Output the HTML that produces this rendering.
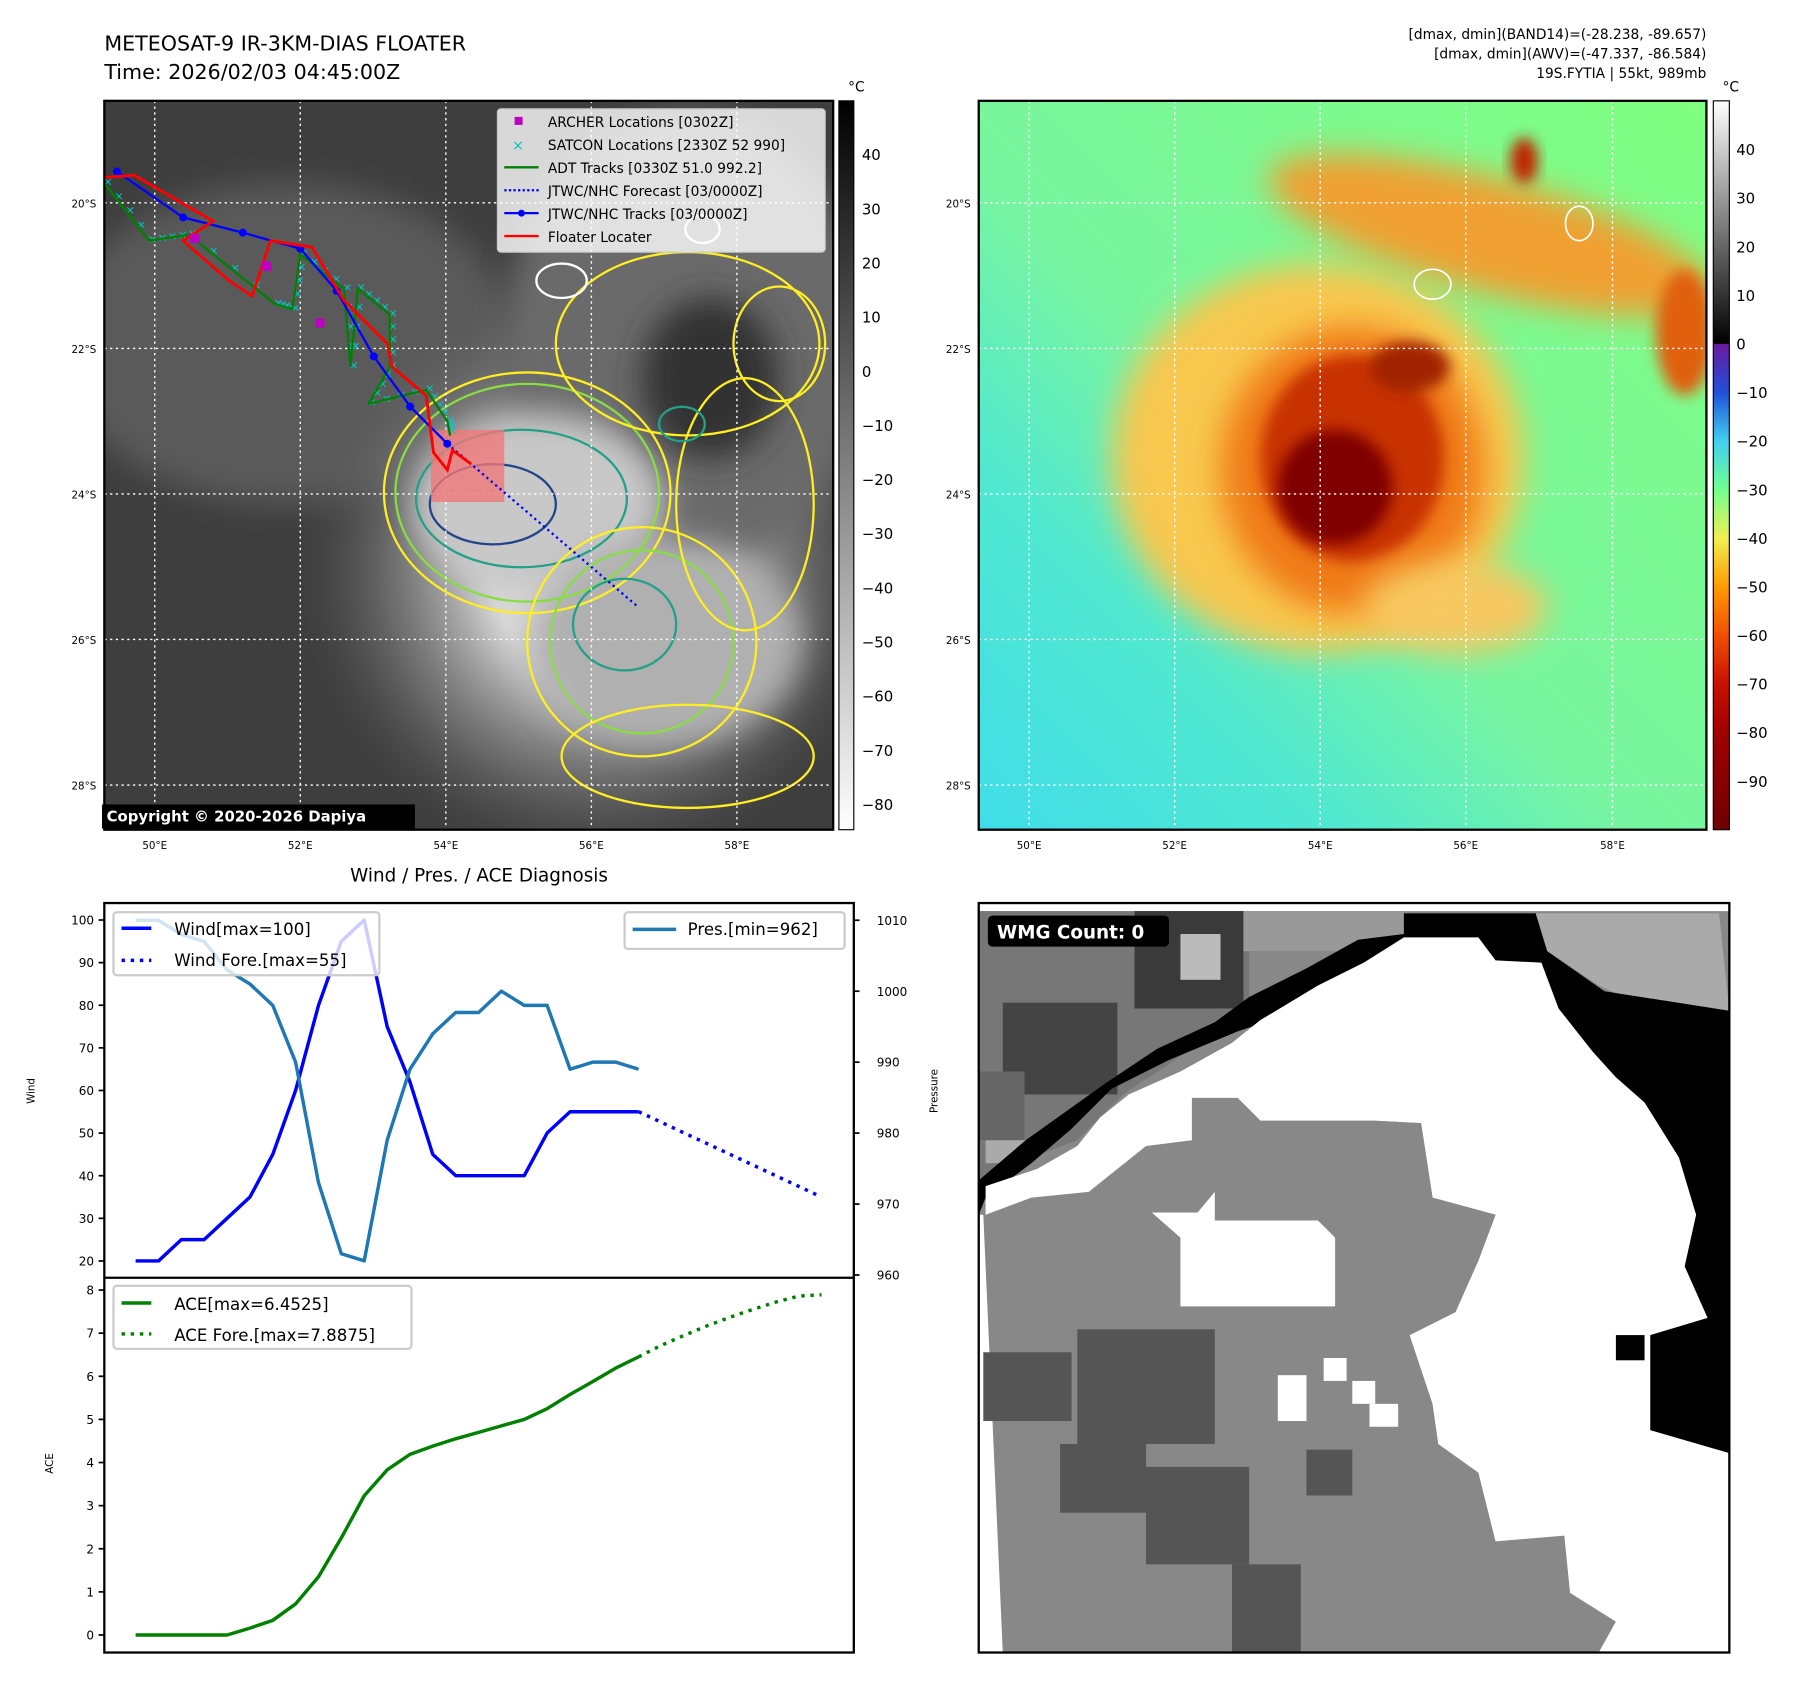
<!DOCTYPE html>
<html><head><meta charset="utf-8"><style>
html,body{margin:0;padding:0;background:#fff;}
svg{display:block;font-family:"DejaVu Sans","Liberation Sans",sans-serif;}
</style></head><body>
<svg id="root" width="1797" height="1690" viewBox="0 0 1568 1474.7" xmlns="http://www.w3.org/2000/svg">
<defs>
<radialGradient id="cloud" cx="0.5" cy="0.5" r="0.5">
<stop offset="0" stop-color="#f4f4f4"/><stop offset="0.35" stop-color="#d8d8d8"/><stop offset="0.7" stop-color="#888" stop-opacity="0.6"/><stop offset="1" stop-color="#555" stop-opacity="0"/>
</radialGradient>
<linearGradient id="bg2" x1="1" y1="0" x2="0" y2="1">
<stop offset="0" stop-color="#80ff80"/><stop offset="0.55" stop-color="#78f5a0"/><stop offset="0.75" stop-color="#50e8d0"/><stop offset="1" stop-color="#40dde8"/>
</linearGradient>
<linearGradient id="cb1" x1="0" y1="0" x2="0" y2="1"><stop offset="0" stop-color="#000"/><stop offset="1" stop-color="#fff"/></linearGradient>
<linearGradient id="cb2" x1="0" y1="0" x2="0" y2="1">
<stop offset="0" stop-color="#fff"/><stop offset="0.333" stop-color="#000"/><stop offset="0.334" stop-color="#6a1aa0"/>
<stop offset="0.4" stop-color="#2050d8"/><stop offset="0.467" stop-color="#40d0f0"/><stop offset="0.533" stop-color="#70ff90"/>
<stop offset="0.6" stop-color="#f0f050"/><stop offset="0.667" stop-color="#ff9a00"/><stop offset="0.733" stop-color="#f05000"/>
<stop offset="0.8" stop-color="#c81000"/><stop offset="0.867" stop-color="#a00000"/><stop offset="1" stop-color="#700000"/>
</linearGradient>
<filter id="blur" x="-30%" y="-30%" width="160%" height="160%"><feGaussianBlur stdDeviation="14"/></filter>
<filter id="blur2" x="-30%" y="-30%" width="160%" height="160%"><feGaussianBlur stdDeviation="6"/></filter>
<clipPath id="c1"><rect x="91" y="88" width="636" height="636"/></clipPath>
<clipPath id="c2"><rect x="854" y="88" width="635" height="636"/></clipPath>
<clipPath id="c3"><rect x="854" y="788" width="655" height="654"/></clipPath>
</defs>

<text x="91" y="44" font-size="18">METEOSAT-9 IR-3KM-DIAS FLOATER</text>
<text x="91" y="69" font-size="18">Time: 2026/02/03 04:45:00Z</text>
<g font-size="12" text-anchor="end">
<text x="1489" y="34">[dmax, dmin](BAND14)=(-28.238, -89.657)</text>
<text x="1489" y="51">[dmax, dmin](AWV)=(-47.337, -86.584)</text>
<text x="1489" y="68">19S.FYTIA | 55kt, 989mb</text>
</g>

<!-- MAP 1 -->
<g clip-path="url(#c1)">
<rect x="91" y="88" width="636" height="636" fill="#3e3e3e"/>
<ellipse cx="250" cy="300" rx="200" ry="140" fill="#5a5a5a" filter="url(#blur)"/>
<ellipse cx="520" cy="500" rx="260" ry="260" fill="url(#cloud)"/>
<ellipse cx="600" cy="300" rx="160" ry="200" fill="#6a6a6a" filter="url(#blur)"/>
<ellipse cx="470" cy="440" rx="110" ry="80" fill="#c8c8c8" filter="url(#blur)"/>
<ellipse cx="580" cy="560" rx="120" ry="90" fill="#b0b0b0" filter="url(#blur)"/>
<ellipse cx="620" cy="330" rx="60" ry="70" fill="#333" filter="url(#blur)"/>
<g fill="none" stroke-width="2">
<ellipse cx="460" cy="430" rx="125" ry="105" stroke="#ffee22"/>
<ellipse cx="460" cy="430" rx="115" ry="95" stroke="#88dd44"/>
<ellipse cx="455" cy="435" rx="92" ry="60" stroke="#22a088"/>
<ellipse cx="430" cy="440" rx="55" ry="35" stroke="#224488"/>
<ellipse cx="600" cy="300" rx="115" ry="80" stroke="#ffee22"/>
<ellipse cx="560" cy="560" rx="100" ry="100" stroke="#ffee22"/>
<ellipse cx="560" cy="560" rx="80" ry="80" stroke="#88dd44"/>
<ellipse cx="545" cy="545" rx="45" ry="40" stroke="#22a088"/>
<ellipse cx="650" cy="440" rx="60" ry="110" stroke="#ffee22"/>
<ellipse cx="600" cy="660" rx="110" ry="45" stroke="#ffee22"/>
<ellipse cx="680" cy="300" rx="40" ry="50" stroke="#ffee22"/>
<ellipse cx="595" cy="370" rx="20" ry="15" stroke="#22a088"/>
<ellipse cx="490" cy="245" rx="22" ry="15" stroke="#fff"/>
<ellipse cx="613" cy="200" rx="15" ry="12" stroke="#fff"/>
</g>
<g stroke="#fff" stroke-width="1.2" stroke-dasharray="2,3">
<line x1="135" y1="88" x2="135" y2="724"/><line x1="262" y1="88" x2="262" y2="724"/><line x1="389" y1="88" x2="389" y2="724"/><line x1="516" y1="88" x2="516" y2="724"/><line x1="643" y1="88" x2="643" y2="724"/>
<line x1="91" y1="177" x2="727" y2="177"/><line x1="91" y1="304" x2="727" y2="304"/><line x1="91" y1="431" x2="727" y2="431"/><line x1="91" y1="558" x2="727" y2="558"/><line x1="91" y1="685" x2="727" y2="685"/>
</g>
<rect x="376" y="375" width="64" height="63" fill="#f07878" opacity="0.8"/>
<g id="tracks"></g>
</g>
<rect x="91" y="88" width="636" height="636" fill="none" stroke="#000" stroke-width="2"/>
<g>
<rect x="434" y="95" width="286" height="125" fill="#fff" fill-opacity="0.8" stroke="#ccc" rx="3"/>
<g font-size="12">
<rect x="449" y="102" width="7" height="7" fill="#c000c0"/><text x="478" y="111">ARCHER Locations [0302Z]</text>
<text x="452" y="131" fill="#00c0c0" font-size="12" text-anchor="middle">×</text><text x="478" y="131">SATCON Locations [2330Z 52 990]</text>
<line x1="440" y1="146" x2="470" y2="146" stroke="#008000" stroke-width="2"/><text x="478" y="151">ADT Tracks [0330Z 51.0 992.2]</text>
<line x1="440" y1="166" x2="470" y2="166" stroke="#0000ff" stroke-width="2" stroke-dasharray="2,2"/><text x="478" y="171">JTWC/NHC Forecast [03/0000Z]</text>
<line x1="440" y1="186" x2="470" y2="186" stroke="#0000ff" stroke-width="2"/><circle cx="455" cy="186" r="3" fill="#0000ff"/><text x="478" y="191">JTWC/NHC Tracks [03/0000Z]</text>
<line x1="440" y1="206" x2="470" y2="206" stroke="#ff0000" stroke-width="2"/><text x="478" y="211">Floater Locater</text>
</g></g>
<rect x="89" y="702" width="273" height="21" fill="#000"/>
<text x="93" y="717" font-size="13" font-weight="bold" fill="#fff">Copyright © 2020-2026 Dapiya</text>
<g font-size="9">
<g text-anchor="end"><text x="84" y="181">20°S</text><text x="84" y="308">22°S</text><text x="84" y="435">24°S</text><text x="84" y="562">26°S</text><text x="84" y="689">28°S</text></g>
<g text-anchor="middle"><text x="135" y="741">50°E</text><text x="262" y="741">52°E</text><text x="389" y="741">54°E</text><text x="516" y="741">56°E</text><text x="643" y="741">58°E</text></g>
</g>
<g>
<rect x="732" y="88" width="13" height="636" fill="url(#cb1)" stroke="#000"/>
<text x="740" y="80" font-size="12">°C</text>
<g font-size="13" id="cb1ticks"></g>
</g>

<!-- MAP 2 -->
<g clip-path="url(#c2)">
<rect x="854" y="88" width="635" height="636" fill="url(#bg2)"/>
<ellipse cx="1150" cy="400" rx="180" ry="170" fill="#f8c850" filter="url(#blur)"/>
<ellipse cx="1300" cy="205" rx="200" ry="50" fill="#f0a030" filter="url(#blur)" transform="rotate(15 1300 205)"/>
<ellipse cx="1470" cy="290" rx="25" ry="55" fill="#e06010" filter="url(#blur2)"/>
<ellipse cx="1330" cy="140" rx="12" ry="20" fill="#c02000" filter="url(#blur2)"/>
<ellipse cx="1180" cy="410" rx="115" ry="125" fill="#f07a18" filter="url(#blur)"/>
<ellipse cx="1180" cy="400" rx="80" ry="90" fill="#c83000" filter="url(#blur2)"/>
<ellipse cx="1165" cy="425" rx="50" ry="50" fill="#800000" filter="url(#blur2)"/>
<ellipse cx="1230" cy="320" rx="35" ry="22" fill="#a02000" filter="url(#blur2)"/>
<ellipse cx="1270" cy="530" rx="80" ry="40" fill="#f8c860" filter="url(#blur)"/>
<ellipse cx="1250" cy="248" rx="16" ry="13" fill="none" stroke="#fff" stroke-width="1.5"/>
<ellipse cx="1378" cy="195" rx="12" ry="15" fill="none" stroke="#fff" stroke-width="1.5"/>
<g stroke="#fff" stroke-width="1.2" stroke-dasharray="2,3">
<line x1="898" y1="88" x2="898" y2="724"/><line x1="1025" y1="88" x2="1025" y2="724"/><line x1="1152" y1="88" x2="1152" y2="724"/><line x1="1279" y1="88" x2="1279" y2="724"/><line x1="1407" y1="88" x2="1407" y2="724"/>
<line x1="854" y1="177" x2="1489" y2="177"/><line x1="854" y1="304" x2="1489" y2="304"/><line x1="854" y1="431" x2="1489" y2="431"/><line x1="854" y1="558" x2="1489" y2="558"/><line x1="854" y1="685" x2="1489" y2="685"/>
</g></g>
<rect x="854" y="88" width="635" height="636" fill="none" stroke="#000" stroke-width="2"/>
<g font-size="9">
<g text-anchor="end"><text x="847" y="181">20°S</text><text x="847" y="308">22°S</text><text x="847" y="435">24°S</text><text x="847" y="562">26°S</text><text x="847" y="689">28°S</text></g>
<g text-anchor="middle"><text x="898" y="741">50°E</text><text x="1025" y="741">52°E</text><text x="1152" y="741">54°E</text><text x="1279" y="741">56°E</text><text x="1407" y="741">58°E</text></g>
</g>
<g>
<rect x="1495" y="88" width="14" height="636" fill="url(#cb2)" stroke="#000"/>
<text x="1503" y="80" font-size="12">°C</text>
<g font-size="13" id="cb2ticks"></g>
</g>

<!-- CHART -->
<text x="418" y="769" font-size="16" text-anchor="middle">Wind / Pres. / ACE Diagnosis</text>
<g id="chart"></g>
<rect x="91" y="788" width="654" height="654" fill="none" stroke="#000" stroke-width="2"/>
<line x1="91" y1="1115" x2="745" y2="1115" stroke="#000" stroke-width="2"/>
<text transform="translate(30 952) rotate(-90)" font-size="9" text-anchor="middle">Wind</text>
<text transform="translate(818 952) rotate(-90)" font-size="9" text-anchor="middle">Pressure</text>
<text transform="translate(46 1277) rotate(-90)" font-size="9" text-anchor="middle">ACE</text>
<g>
<rect x="99" y="796" width="232" height="55" fill="#fff" fill-opacity="0.8" stroke="#ccc" stroke-width="2" rx="3"/>
<line x1="106" y1="810" x2="132" y2="810" stroke="#0000ff" stroke-width="3"/><text x="152" y="816" font-size="14.5">Wind[max=100]</text>
<line x1="106" y1="838" x2="132" y2="838" stroke="#0000ff" stroke-width="3" stroke-dasharray="3,5"/><text x="152" y="843" font-size="14.5">Wind Fore.[max=55]</text>
</g>
<g>
<rect x="545" y="796" width="192" height="32" fill="#fff" fill-opacity="0.8" stroke="#ccc" stroke-width="2" rx="3"/>
<line x1="552" y1="811" x2="590" y2="811" stroke="#1f77b4" stroke-width="3"/><text x="600" y="816" font-size="14.5">Pres.[min=962]</text>
</g>
<g>
<rect x="99" y="1122" width="260" height="55" fill="#fff" fill-opacity="0.8" stroke="#ccc" stroke-width="2" rx="3"/>
<line x1="106" y1="1137" x2="132" y2="1137" stroke="#008000" stroke-width="3"/><text x="152" y="1143" font-size="14.5">ACE[max=6.4525]</text>
<line x1="106" y1="1164" x2="132" y2="1164" stroke="#008000" stroke-width="3" stroke-dasharray="3,5"/><text x="152" y="1170" font-size="14.5">ACE Fore.[max=7.8875]</text>
</g>

<!-- WMG -->
<g clip-path="url(#c3)">
<rect x="854" y="788" width="655" height="654" fill="#fff"/>
<polygon fill="#888" points="854,795 1509,795 1509,1442 875,1442 858,1060 854,1060"/>
<polygon fill="#777" points="854,795 1090,795 1090,880 1040,915 980,955 940,995 900,1010 854,1030"/>
<rect x="990" y="795" width="95" height="85" fill="#3a3a3a"/>
<rect x="1030" y="815" width="35" height="40" fill="#bbb"/>
<rect x="875" y="875" width="100" height="80" fill="#444"/>
<rect x="854" y="935" width="40" height="60" fill="#666"/>
<rect x="860" y="995" width="40" height="20" fill="#aaa"/>
<rect x="1085" y="795" width="140" height="35" fill="#999"/>
<polygon fill="#aaa" points="1340,797 1500,797 1509,882 1440,880 1395,860 1350,830"/>
<polygon fill="#000" points="1225,797 1340,797 1350,830 1400,865 1509,882 1509,1268 1430,1268 1410,1160 1460,1090 1440,1000 1380,920 1330,860 1280,838 1200,840 1140,880 1080,900 1020,925 970,950 935,985 900,1015 860,1045 854,1060 854,1030 895,995 930,970 965,945 1010,915 1060,892 1090,870 1140,845 1185,820 1225,815"/>
<polygon fill="#fff" points="860,1060 900,1045 950,1040 1000,1000 1040,995 1040,958 1080,958 1100,978 1200,978 1240,980 1250,1045 1305,1060 1290,1100 1270,1145 1230,1165 1250,1225 1255,1260 1290,1285 1305,1345 1365,1340 1370,1390 1410,1415 1395,1442 1509,1442 1509,1268 1440,1248 1440,1165 1490,1150 1470,1105 1480,1060 1465,1010 1435,962 1410,940 1390,918 1360,880 1345,840 1305,838 1290,818 1225,818 1190,840 1150,860 1100,890 1075,910 1030,935 985,955 960,975 940,1000 905,1020 860,1035"/>
<polygon fill="#888" points="1100,978 1200,978 1240,980 1250,1045 1305,1060 1290,1100 1270,1145 1230,1165 1165,1160 1165,1080 1150,1065 1060,1065 1060,1040 1100,1000"/>
<polygon fill="#fff" points="1005,1058 1045,1058 1060,1040 1060,1065 1150,1065 1165,1080 1165,1140 1030,1140 1030,1080"/>
<rect x="1115" y="1200" width="25" height="40" fill="#fff"/><rect x="1155" y="1185" width="20" height="20" fill="#fff"/><rect x="1180" y="1205" width="20" height="20" fill="#fff"/><rect x="1195" y="1225" width="25" height="20" fill="#fff"/>
<rect x="1410" y="1165" width="25" height="22" fill="#000"/>
<g fill="#555">
<rect x="858" y="1180" width="77" height="60" /><rect x="940" y="1160" width="120" height="100"/><rect x="925" y="1260" width="75" height="60"/>
<rect x="1000" y="1280" width="90" height="85"/><rect x="1075" y="1365" width="60" height="77"/><rect x="1140" y="1265" width="40" height="40"/>
</g>
</g>
<rect x="854" y="788" width="655" height="654" fill="none" stroke="#000" stroke-width="2"/>
<rect x="862" y="799" width="158" height="27" rx="4" fill="#000"/>
<text x="870" y="819" font-size="16" font-weight="bold" fill="#fff">WMG Count: 0</text>

<script>
const windValues = [20,20,25,25,30,35,45,60,80,95,100,75,62,45,40,40,40,40,50,55,55,55,55];
const windForecast = [55,52.5,50,47.5,45,42.5,40,37.5,35];
const presValues = [1010,1010,1008,1007,1003,1001,998,990,973,963,962,979,989,994,997,997,1000,998,998,989,990,990,989];
const aceValues = [0,0,0,0,0,0.16,0.34,0.72,1.35,2.25,3.23,3.83,4.19,4.38,4.55,4.7,4.85,5.0,5.25,5.58,5.88,6.19,6.45];
const aceForecast = [6.45,6.72,6.95,7.17,7.37,7.55,7.72,7.86,7.89];
const windTicks = [20,30,40,50,60,70,80,90,100];
const presTicks = [960,970,980,990,1000,1010];
const aceTicks = [0,1,2,3,4,5,6,7,8];
const cb1Ticks = [40,30,20,10,0,-10,-20,-30,-40,-50,-60,-70,-80];
const cb2Ticks = [40,30,20,10,0,-10,-20,-30,-40,-50,-60,-70,-80,-90];
const jtwcLon = [49.48,50.39,51.21,52.0,52.5,53.01,53.51,54.02];
const jtwcLat = [19.57,20.20,20.41,20.63,21.21,22.11,22.8,23.31];
const fcstLon = [54.02,56.65];
const fcstLat = [23.31,25.56];
const floaterLon = [49.31,49.72,50.8,50.39,51.02,51.34,51.59,52.16,52.6,53.2,53.26,53.73,53.83,54.02,54.09,54.35];
const floaterLat = [19.65,19.62,20.25,20.52,21.07,21.28,20.52,20.61,21.34,21.94,22.25,22.65,23.43,23.67,23.40,23.59];
const adtLon = [49.31,49.92,50.47,51.65,51.89,52.0,52.6,52.69,52.79,53.23,53.23,52.94,53.73,54.02,54.06];
const adtLat = [19.73,20.52,20.44,21.39,21.46,20.71,21.18,22.25,21.18,21.54,22.25,22.76,22.57,23.0,23.2];
const archerLon = [51.54,52.27,50.55];
const archerLat = [20.87,21.65,20.49];

const NS = 'http://www.w3.org/2000/svg';
function mk(tag, attrs, parent){const e=document.createElementNS(NS,tag);for(const k in attrs)e.setAttribute(k,attrs[k]);parent.appendChild(e);return e;}
const X = i => 118.3 + i*19.95;
const yW = v => 1100.3 - (v-20)*(1100.3-802.8)/80;
const yP = p => 1112.6 - (p-960)*(1112.6-803)/50;
const yA = a => 1426.7 - a*(1426.7-1125.7)/8;
const chart = document.getElementById('chart');

function line(vals, off, yf, color, dash, name){
  const pts = vals.map((v,i)=>X(i+off).toFixed(1)+','+yf(v).toFixed(1)).join(' ');
  const p = mk('polyline',{points:pts,fill:'none',stroke:color,'stroke-width':3,'stroke-linejoin':'round'},chart);
  if(dash) p.setAttribute('stroke-dasharray','3,5');
  
  
}
line(windValues,0,yW,'#0000ff',false,'wind-line');
line(windForecast,22,yW,'#0000ff',true,'wind-forecast-line');
line(presValues,0,yP,'#1f77b4',false,'pressure-line');
line(aceValues,0,yA,'#008000',false,'ace-line');
line(aceForecast,22,yA,'#008000',true,'ace-forecast-line');

function ticks(vals, yf, side){
  vals.forEach(v=>{
    const y=yf(v);
    const x0 = side==='l'?91:745, x1 = side==='l'?86:750;
    const t = mk('line',{x1:x0,y1:y,x2:x1,y2:y,stroke:'#000','stroke-width':1.5},chart);
    
    
    const l = mk('text',{x: side==='l'?82:765, y:y+4,'font-size':10.5,'text-anchor': side==='l'?'end':'start'},chart);
    l.textContent = v;
    
    
  });
}
ticks(windTicks,yW,'l');
ticks(presTicks,yP,'r');
ticks(aceTicks,yA,'l');

const cbY1 = v => 88 + (49.9 - v)*4.725;
const g1 = document.getElementById('cb1ticks');
cb1Ticks.forEach(v=>{
  const t = mk('text',{x:752,y:cbY1(v)+5},g1); t.textContent = v<0?'\u2212'+(-v):v;
  
  
});
const cbY2 = v => 88 + (50 - v)*4.24;
const g2 = document.getElementById('cb2ticks');
cb2Ticks.forEach(v=>{
  const t = mk('text',{x:1515,y:cbY2(v)+5},g2); t.textContent = v<0?'\u2212'+(-v):v;
  
  
});

const px = lon => 135 + (lon-50)*63.5;
const py = lat => 177 + (lat-20)*63.5;
const tg = document.getElementById('tracks');
function track(lons, lats, color, w, dash, name){
  const pts = lons.map((l,i)=>px(l).toFixed(1)+','+py(lats[i]).toFixed(1)).join(' ');
  const p = mk('polyline',{points:pts,fill:'none',stroke:color,'stroke-width':w},tg);
  if(dash) p.setAttribute('stroke-dasharray','2,3');
  
  
}
adtLon.forEach((l,i)=>{
  if(i===0) return;
  const l0=adtLon[i-1], a0=adtLat[i-1];
  for(let k=0;k<4;k++){
    const f=k/4;
    const m = mk('text',{x:px(l0+(l-l0)*f)+3,y:py(a0+(adtLat[i]-a0)*f)+2,'font-size':10,fill:'#00c8c8','text-anchor':'middle'},tg);
    m.textContent='×';
    
    
  }
});
track(adtLon, adtLat, '#008000', 2, false, 'adt-track');
track(fcstLon, fcstLat, '#0000ff', 2, true, 'jtwc-forecast-track');
track(jtwcLon, jtwcLat, '#0000ff', 2, false, 'jtwc-track');
jtwcLon.forEach((l,i)=>{
  const c = mk('circle',{cx:px(l),cy:py(jtwcLat[i]),r:3.5,fill:'#0000ff'},tg);
  
  
});
track(floaterLon, floaterLat, '#ff0000', 2.5, false, 'floater-track');
archerLon.forEach((l,i)=>{
  const r = mk('rect',{x:px(l)-4,y:py(archerLat[i])-4,width:8,height:8,fill:'#c000c0'},tg);
  
  
});
</script>
</svg>
</body></html>
